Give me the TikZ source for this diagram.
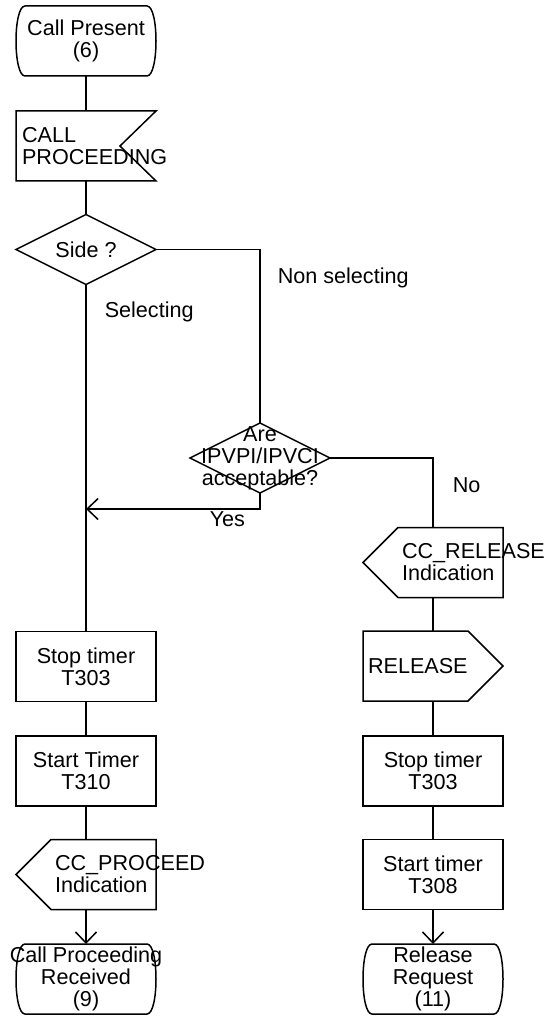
\documentclass[tikz,border=0pt]{standalone}
\usepackage{fontspec}
\setmainfont{Liberation Sans}
\usetikzlibrary{arrows.meta}

\newcommand{\sdlfont}{\fontsize{21.6}{22}\selectfont\hyphenpenalty=10000 }

\tikzset{every picture/.style={line width=1.5pt}}
\tikzset{
  sdl/.style={minimum width=140pt, minimum height=70pt, inner sep=0pt, outer sep=0pt, align=center, font=\sdlfont},
  outline/.style={sdl, append after command={\pgfextra{\draw[shift={(\tikzlastnode.center)}] #1;}}},
  taskbox/.style={sdl, draw},
  statebox/.style={outline={(-61,-35) -- (61,-35) .. controls (73,-35) and (73,35) .. (61,35) -- (-61,35) .. controls (-73,35) and (-73,-35) .. cycle}},
  notchbox/.style={outline={(-70,-35) -- (70,-35) -- (34,0) -- (70,35) -- (-70,35) -- cycle}},
  sendbox/.style={outline={(-70,-35) -- (35,-35) -- (70,0) -- (35,35) -- (-70,35) -- cycle}},
  recvbox/.style={outline={(-35,-35) -- (70,-35) -- (70,35) -- (-35,35) -- (-70,0) -- cycle}},
  decision/.style={outline={(-70,0) -- (0,-35) -- (70,0) -- (0,35) -- cycle}},
  lbl/.style={anchor=base west, inner sep=0pt, font=\sdlfont},
  arr/.style={-{Straight Barb[length=11pt,width=21pt]}},
}

\begin{document}
\begin{tikzpicture}[x=1pt,y=-1pt]
    \useasboundingbox (0,0) rectangle (551,1016);

    %Shape: State
    \node (present) at (86,41) [statebox] {Call Present\\(6)};
    %Shape: Notched box
    \node (callproc) at (86,146) [notchbox, align=left, text width=128pt] {CALL\\PROCEEDING};
    %Shape: Diamond
    \node (side) at (86,249.5) [decision] {Side ?};
    %Shape: Diamond
    \node (accept) at (260,458) [decision] {Are\\IPVPI/IPVCI\\acceptable?};

    %Shape: Rectangle
    \node (stopleft) at (86,666.5) [taskbox] {Stop timer\\T303};
    %Shape: Rectangle
    \node (startleft) at (86,771) [taskbox] {Start Timer\\T310};
    %Shape: Input signal
    \node (proceedind) at (86,874.5) [recvbox, align=left, text width=62pt] {CC\_PROCEED\\Indication};
    %Shape: State
    \node (proceeding) at (86,979) [statebox] {Call Proceeding\\Received\\(9)};

    %Shape: Input signal
    \node (releaseind) at (433,562.5) [recvbox, align=left, text width=62pt] {CC\_RELEASE\\Indication};
    %Shape: Output signal
    \node (release) at (433,666) [sendbox, align=left, text width=130pt] {RELEASE};
    %Shape: Rectangle
    \node (stopright) at (433,771) [taskbox] {Stop timer\\T303};
    %Shape: Rectangle
    \node (startright) at (433,874.5) [taskbox] {Start timer\\T308};
    %Shape: State
    \node (relreq) at (433,979) [statebox] {Release\\Request\\(11)};

    \coordinate (yesjoin) at (86,509);

    %Straight Lines
    \draw (present.south) -- (callproc.north);
    \draw (callproc.south) -- (side.north);
    \draw (side.south) -- (stopleft.north);
    \draw (side.east) -| (accept.north);
    \draw [arr] (accept.south) |- (yesjoin);
    \draw (accept.east) -| (releaseind.north);
    \draw (stopleft.south) -- (startleft.north);
    \draw (startleft.south) -- (proceedind.north);
    \draw [arr] (proceedind.south) -- (proceeding.north);
    \draw (releaseind.south) -- (release.north);
    \draw (release.south) -- (stopright.north);
    \draw (stopright.south) -- (startright.north);
    \draw [arr] (startright.south) -- (relreq.north);

    % Text Node
    \node (nonsel) at (277,283.5) [lbl] {Non selecting};
    % Text Node
    \node (sel) at (104,317) [lbl] {Selecting};
    % Text Node
    \node (yes) at (209,526) [lbl] {Yes};
    % Text Node
    \node (no) at (452,492) [lbl] {No};

\end{tikzpicture}
\end{document}
